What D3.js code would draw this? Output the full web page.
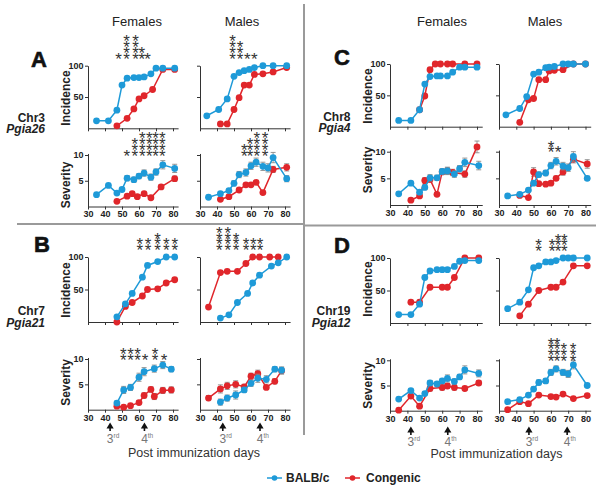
<!DOCTYPE html>
<html><head><meta charset="utf-8">
<script src="https://cdn.jsdelivr.net/npm/d3@7"></script>
<style>body{margin:0;background:#fff} svg{display:block}</style>
</head><body>
<svg id="c" width="602" height="490"></svg>
<script>
// ---------- DATA: [day, value] for incidence (%), [day, value, sem] for severity ----------
// Panel A  Chr3 Pgia26
const aFIncBalb = [[35,12],[42,12],[47,29],[50,69],[53,80],[57,81],[60,81],[63,82],[67,87],[70,96],[74,96],[81,96]];
const aFIncCong = [[47,4],[53,16],[57,31],[60,47],[63,52],[68,62],[74,94],[81,94]];
const aMIncBalb = [[34,20],[41,30],[46,47],[50,83],[53,89],[56,92],[59,94],[62,97],[67,100],[73,100],[81,100]];
const aMIncCong = [[42,7],[46,7],[50,30],[53,49],[56,69],[59,69],[62,86],[67,87],[73,90],[81,97]];
const aFSevBalb = [[35,2.3,0.2],[42,4.1,0.3],[47,2.6,0.3],[50,3.3,0.3],[53,5.5,0.5],[57,5.2,0.5],[60,5.9,0.5],[63,6.5,0.6],[67,5.7,0.6],[70,6.7,0.6],[74,8.1,0.8],[81,7.4,0.8]];
const aFSevCong = [[47,1.0,0.2],[53,2.0,0.3],[56,2.5,0.3],[59,1.9,0.3],[63,2.5,0.3],[67,1.7,0.3],[73,3.8,0.4],[81,5.4,0.5]];
const aMSevBalb = [[35,1.8,0.2],[42,2.5,0.3],[47,3.1,0.3],[50,4.5,0.5],[53,6.2,0.6],[57,6.6,0.7],[60,7.9,0.7],[63,8.6,0.8],[67,7.8,0.8],[70,7.5,0.8],[73,9.5,1.0],[81,5.4,0.6]];
const aMSevCong = [[42,1.4,0.2],[47,1.9,0.3],[53,3.2,0.3],[57,4.2,0.3],[60,4.2,0.3],[63,4.7,0.3],[67,2.7,0.3],[73,7.2,0.6],[81,7.6,0.7]];
// Panel B  Chr7 Pgia21
const bFIncBalb = [[47,8],[52,28],[56,44],[62,69],[65,87],[71,93],[76,100],[81,100]];
const bFIncCong = [[47,0],[52,24],[56,30],[62,40],[65,50],[71,51],[76,60],[81,65]];
const bMIncBalb = [[42,6],[47,11],[52,30],[58,44],[61,60],[65,72],[72,86],[76,91],[81,100]];
const bMIncCong = [[35,23],[42,76],[46,78],[52,78],[57,90],[61,100],[65,100],[71,100],[76,100]];
const bFSevBalb = [[47,1.3,0.4],[51,3.9,0.7],[55,4.4,0.6],[60,6.4,0.8],[63,7.5,0.8],[69,8.1,0.7],[74,8.8,0.7],[79,8.0,0.5]];
const bFSevCong = [[47,0.7,0.3],[51,0.5,0.3],[55,0.8,0.3],[60,1.4,0.4],[63,2.8,0.5],[67,4.0,0.5],[69,2.6,0.6],[74,3.8,0.6],[79,3.9,0.6]];
const bMSevBalb = [[42,1.5,0.6],[46,2.3,0.6],[51,2.9,0.8],[56,3.9,0.5],[60,5.2,0.6],[64,6.2,0.8],[69,6.0,0.7],[74,8.0,0.5],[78,7.8,0.6]];
const bMSevCong = [[35,2.3,0.5],[42,4.1,0.8],[46,4.7,0.7],[51,5.0,0.7],[56,4.5,0.5],[60,6.6,0.6],[64,7.1,0.7],[69,4.4,0.4],[74,5.6,0.5],[78,7.7,0.7]];
// Panel C  Chr8 Pgia4
const cFIncBalb = [[35,10],[42,10],[47,27],[50,68],[53,80],[57,81],[59,81],[63,81],[66,87],[70,95],[73,95],[80,95]];
const cFIncCong = [[47,27],[50,49],[53,91],[56,100],[59,100],[63,100],[66,100],[73,100],[80,100]];
const cMIncBalb = [[34,19],[42,29],[46,48],[50,84],[53,87],[57,94],[59,95],[62,96],[67,100],[70,100],[73,100],[80,100]];
const cMIncCong = [[42,7],[47,43],[50,45],[53,75],[57,75],[59,89],[62,90],[67,91],[73,100],[80,100]];
const cFSevBalb = [[35,2.1,0.2],[42,4.1,0.3],[47,2.4,0.3],[50,3.3,0.4],[53,5.1,0.6],[57,5.1,0.5],[60,6.3,0.5],[63,6.4,0.7],[67,5.8,0.6],[70,6.8,0.6],[73,8.0,0.8],[81,7.4,0.8]];
const cFSevCong = [[42,0.9,0.2],[47,1.7,0.3],[50,4.6,0.5],[53,4.8,0.5],[57,2.0,0.3],[60,6.2,0.5],[63,6.4,0.6],[66,6.1,0.6],[73,5.8,0.6],[80,10.9,1.1]];
const cMSevBalb = [[35,1.7,0.2],[42,2.0,0.2],[47,2.8,0.3],[50,4.1,0.4],[53,5.7,0.5],[57,6.0,0.5],[60,7.4,0.6],[63,8.2,0.7],[67,7.3,0.7],[70,7.0,0.7],[73,9.1,0.9],[81,5.0,0.4]];
const cMSevCong = [[42,1.8,0.3],[47,1.4,0.3],[50,6.2,0.8],[53,4.0,0.4],[57,3.9,0.3],[60,4.1,0.3],[63,5.0,0.4],[67,6.2,0.6],[73,8.6,0.7],[81,7.7,0.8]];
// Panel D  Chr19 Pgia12
const dFIncBalb = [[35,13],[42,13],[47,29],[50,70],[53,80],[57,82],[60,82],[63,82],[67,87],[70,95],[73,96],[81,96]];
const dFIncCong = [[42,32],[47,32],[53,55],[60,55],[63,55],[67,70],[73,100],[81,100]];
const dMIncBalb = [[35,22],[42,32],[47,51],[50,85],[53,88],[57,94],[60,94],[63,96],[67,100],[70,100],[73,100],[81,100]];
const dMIncCong = [[42,11],[47,29],[53,50],[60,55],[63,55],[67,63],[73,88],[81,88]];
const dFSevBalb = [[35,2.3,0.2],[42,4.0,0.3],[47,2.5,0.2],[50,3.4,0.3],[53,5.5,0.5],[57,5.3,0.4],[60,5.9,0.5],[63,6.4,0.7],[67,5.8,0.5],[70,6.7,0.5],[73,8.1,0.8],[81,7.4,0.7]];
const dFSevCong = [[35,0.1,0.1],[42,2.9,0.3],[47,0.9,0.3],[53,4.4,0.5],[60,4.6,0.5],[63,4.9,0.5],[67,4.6,0.5],[73,4.4,0.4],[81,5.5,0.5]];
const dMSevBalb = [[35,1.8,0.2],[42,2.2,0.3],[47,3.1,0.3],[50,4.3,0.4],[53,5.6,0.5],[57,5.9,0.5],[60,7.6,0.6],[63,8.3,0.6],[67,7.6,0.6],[70,7.3,0.7],[73,9.1,0.8],[81,5.0,0.4]];
const dMSevCong = [[35,0.2,0.2],[42,1.8,0.2],[47,1.4,0.3],[53,3.1,0.3],[60,2.8,0.3],[63,2.7,0.3],[67,3.3,0.3],[73,2.4,0.3],[81,3.0,0.3]];

// significance stars: [day, number of stars]
const aFIncStars = [[48,1],[52.7,4],[58,4],[61.6,2],[65,1]];
const aMIncStars = [[49.2,4],[53.5,3],[57.8,1],[61.9,1]];
const aFSevStars = [[52.8,1],[57.6,3],[61.9,4],[66.1,4],[69.8,4],[73.7,4]];
const aMSevStars = [[56,2],[59.4,3],[63.4,4],[68.3,4]];
const bFIncStars = [[60.5,2],[65.4,2],[70.9,3],[76.1,2],[81,2]];
const bMIncStars = [[41.4,4],[46.3,4],[51.2,3],[57.1,2],[61.4,2],[65.3,2]];
const bFSevStars = [[50.8,2],[55.1,2],[59.2,2],[63.5,1],[69.4,2],[74.7,1]];
const cMSevStars = [[60.1,2],[64.1,1]];
const dMIncStars = [[52.9,2],[60.6,2],[64.1,3],[67.8,3]];
const dMSevStars = [[60.1,4],[63.5,4],[67.4,3],[72.8,3]];

// immunization arrows (day) and labels
const boostLabels = [["3","rd"],["4","th"]];
const bFArrows = [43, 63.2];
const bMArrows = [43.4, 65.3];
const dFArrows = [42, 63.2];
const dMArrows = [47.3, 69.4];

const xTicks = [30,40,50,60,70,80];
const incTicks = [50,100];
const sevTicks = [5,10];
const sexTitles = ["Females","Males"];
const legendLabels = ["BALB/c","Congenic"];
const xTitle = "Post immunization days";

// ---------- STYLE / LAYOUT ----------
const BLUE = "#1e9ad8", RED = "#e0262b", FONT = "'Liberation Sans', Arial, Helvetica, sans-serif";
const svg = d3.select("#c");

const cols = {
  L: {F:[88,173], M:[200,285], titleX:70, chrX:45},
  R: {F:[390,477], M:[499,585.5], titleX:371.5, chrX:350.5}
};

const panels = [
  {letter:"A", col:"L", lp:[31,66.7], chr:"Chr3", gene:"Pgia26", chrY:121.7, inc:[128.3,65.7], sev:[206.5,155], incLY:98, sevLY:185,
   F:{inc:[aFIncCong,aFIncBalb], sev:[aFSevCong,aFSevBalb], incS:aFIncStars, sevS:aFSevStars},
   M:{inc:[aMIncCong,aMIncBalb], sev:[aMSevCong,aMSevBalb], incS:aMIncStars, sevS:aMSevStars}},
  {letter:"B", col:"L", lp:[34,251.7], chr:"Chr7", gene:"Pgia21", chrY:315, inc:[322,257], sev:[409.7,359], incLY:290, sevLY:382.5,
   F:{inc:[bFIncCong,bFIncBalb], sev:[bFSevCong,bFSevBalb], incS:bFIncStars, sevS:bFSevStars, arrows:bFArrows},
   M:{inc:[bMIncCong,bMIncBalb], sev:[bMSevCong,bMSevBalb], incS:bMIncStars, sevS:null, arrows:bMArrows}, arrowY:422.5, labY:443, titleY:456.7},
  {letter:"C", col:"R", lp:[334,65], chr:"Chr8", gene:"Pgia4", chrY:120.7, inc:[126.7,64], sev:[205,151.7], incLY:96, sevLY:170,
   F:{inc:[cFIncCong,cFIncBalb], sev:[cFSevCong,cFSevBalb], incS:null, sevS:null},
   M:{inc:[cMIncCong,cMIncBalb], sev:[cMSevCong,cMSevBalb], incS:null, sevS:cMSevStars}},
  {letter:"D", col:"R", lp:[334,253.3], chr:"Chr19", gene:"Pgia12", chrY:315, inc:[323,258], sev:[410.7,360.3], incLY:289, sevLY:385.5,
   F:{inc:[dFIncCong,dFIncBalb], sev:[dFSevCong,dFSevBalb], incS:null, sevS:null, arrows:dFArrows},
   M:{inc:[dMIncCong,dMIncBalb], sev:[dMSevCong,dMSevBalb], incS:dMIncStars, sevS:dMSevStars, arrows:dMArrows}, arrowY:426.5, labY:445.5, titleY:458.3}
];

function drawPlot(xr, yr, kind, showY, series, stars) {
  const g = svg.append("g");
  const x = d3.scaleLinear().domain([30,83]).range([xr[0], xr[0] + (xr[1]-xr[0])*53/50]);
  const top = kind === "inc" ? 100 : 10.3;
  const y = d3.scaleLinear().domain([0, top]).range([yr[0], yr[0] + (yr[1]-yr[0]) * (kind==="inc" ? 1 : 1.03)]);
  const xa = g.append("g").attr("transform", `translate(0,${yr[0]})`)
    .call(d3.axisBottom(x).tickValues(xTicks).tickSize(3).tickSizeOuter(0).tickPadding(1.5)
      .tickFormat(kind === "sev" ? d3.format("d") : () => ""));
  const ya = g.append("g").attr("transform", `translate(${xr[0]},0)`)
    .call(d3.axisLeft(y).tickValues(kind === "inc" ? incTicks : sevTicks).tickSize(3).tickSizeOuter(0).tickPadding(1.5)
      .tickFormat(showY ? d3.format("d") : () => ""));
  [xa, ya].forEach(a => {
    a.select(".domain").attr("stroke", "#333").attr("stroke-width", 1);
    a.selectAll(".tick line").attr("stroke", "#333");
    a.selectAll("text").attr("font-family", FONT).attr("font-weight", "bold").attr("font-size", 9).attr("fill", "#222");
  });
  const line = d3.line().x(d => x(d[0])).y(d => y(d[1]));
  series.forEach((data, i) => {
    const color = i === 0 ? RED : BLUE;
    if (kind === "sev") {
      const eb = g.append("g").attr("stroke", "#8a8a8a").attr("stroke-width", 0.9);
      data.forEach(d => {
        const cx = x(d[0]), y1 = y(d[1] - d[2]), y2 = y(d[1] + d[2]);
        eb.append("line").attr("x1", cx).attr("x2", cx).attr("y1", y1).attr("y2", y2);
        eb.append("line").attr("x1", cx-2.5).attr("x2", cx+2.5).attr("y1", y1).attr("y2", y1);
        eb.append("line").attr("x1", cx-2.5).attr("x2", cx+2.5).attr("y1", y2).attr("y2", y2);
      });
    }
    g.append("path").datum(data).attr("d", line).attr("fill", "none").attr("stroke", color).attr("stroke-width", 1.5);
    g.selectAll(null).data(data).enter().append("circle")
      .attr("cx", d => x(d[0])).attr("cy", d => y(d[1])).attr("r", 3.4).attr("fill", color);
  });
  if (stars) {
    const base = kind === "inc" ? y(100) - 10.5 : y(10) - 3;
    stars.forEach(s => {
      const t = g.append("text").attr("text-anchor", "middle").attr("font-family", FONT)
        .attr("font-size", 17).attr("fill", "#333");
      for (let k = 0; k < s[1]; k++) {
        t.append("tspan").attr("x", x(s[0])).attr("y", base - k*5.8 + 9.6).text("*");
      }
    });
  }
  return x;
}

// dividers
svg.append("line").attr("x1", 304).attr("x2", 304).attr("y1", 4).attr("y2", 435).attr("stroke", "#9a9a9a").attr("stroke-width", 2);
svg.append("line").attr("x1", 17).attr("x2", 304).attr("y1", 224).attr("y2", 224).attr("stroke", "#9a9a9a").attr("stroke-width", 2);
svg.append("line").attr("x1", 304).attr("x2", 596).attr("y1", 225.5).attr("y2", 225.5).attr("stroke", "#9a9a9a").attr("stroke-width", 2);

// column titles
const titleX = {L:[137,242], R:[442,545]};
["L","R"].forEach(c => {
  sexTitles.forEach((s, i) => {
    svg.append("text").attr("x", titleX[c][i]).attr("y", 26).attr("text-anchor", "middle")
      .attr("font-family", FONT).attr("font-size", 13).attr("fill", "#222").text(s);
  });
});

panels.forEach(p => {
  const c = cols[p.col];
  svg.append("text").attr("x", p.lp[0]).attr("y", p.lp[1]).attr("font-family", FONT).attr("font-weight", "bold")
    .attr("font-size", 22).attr("fill", "#111").attr("stroke", "#111").attr("stroke-width", 0.6).text(p.letter);
  svg.append("text").attr("x", c.chrX).attr("y", p.chrY).attr("text-anchor", "end").attr("font-family", FONT)
    .attr("font-weight", "bold").attr("font-size", 12).attr("fill", "#222").text(p.chr);
  svg.append("text").attr("x", c.chrX).attr("y", p.chrY + 11.5).attr("text-anchor", "end").attr("font-family", FONT)
    .attr("font-weight", "bold").attr("font-style", "italic").attr("font-size", 12).attr("fill", "#222").text(p.gene);
  svg.append("text").attr("transform", `translate(${c.titleX},${p.incLY}) rotate(-90)`).attr("text-anchor", "middle")
    .attr("font-family", FONT).attr("font-weight", "bold").attr("font-size", 12).attr("fill", "#222").text("Incidence");
  svg.append("text").attr("transform", `translate(${c.titleX},${p.sevLY}) rotate(-90)`).attr("text-anchor", "middle")
    .attr("font-family", FONT).attr("font-weight", "bold").attr("font-size", 12).attr("fill", "#222").text("Severity");
  ["F","M"].forEach(s => {
    const d = p[s];
    drawPlot(c[s], p.inc, "inc", s === "F", d.inc, d.incS);
    const x = drawPlot(c[s], p.sev, "sev", s === "F", d.sev, d.sevS);
    if (d.arrows) {
      d.arrows.forEach((day, i) => {
        const ax = x(day), ay = p.arrowY;
        svg.append("path").attr("d", `M${ax},${ay} L${ax+3.6},${ay+6} L${ax+0.8},${ay+6} L${ax+0.8},${ay+8.5} L${ax-0.8},${ay+8.5} L${ax-0.8},${ay+6} L${ax-3.6},${ay+6} Z`).attr("fill", "#111");
        const t = svg.append("text").attr("x", ax - 3.3).attr("y", p.labY).attr("font-family", FONT).attr("font-size", 12).attr("fill", "#777");
        t.append("tspan").text(boostLabels[i][0]);
        t.append("tspan").attr("font-size", 6.5).attr("dy", -5).text(boostLabels[i][1]);
      });
    }
  });
  if (p.titleY) {
    const cx = p.col === "L" ? 194 : 496.5;
    svg.append("text").attr("x", cx).attr("y", p.titleY).attr("text-anchor", "middle").attr("font-family", FONT)
      .attr("font-size", 12.5).attr("fill", "#333").text(xTitle);
  }
});

// legend
const leg = [[267, 282, BLUE, 286], [345, 360, RED, 366]];
leg.forEach((l, i) => {
  svg.append("line").attr("x1", l[0]).attr("x2", l[1]).attr("y1", 478).attr("y2", 478).attr("stroke", l[2]).attr("stroke-width", 1.5);
  svg.append("circle").attr("cx", (l[0]+l[1])/2).attr("cy", 478).attr("r", 2.8).attr("fill", l[2]);
  svg.append("text").attr("x", l[3]).attr("y", 482.3).attr("font-family", FONT).attr("font-weight", "bold")
    .attr("font-size", 12).attr("fill", "#222").text(legendLabels[i]);
});
</script>
</body></html>
